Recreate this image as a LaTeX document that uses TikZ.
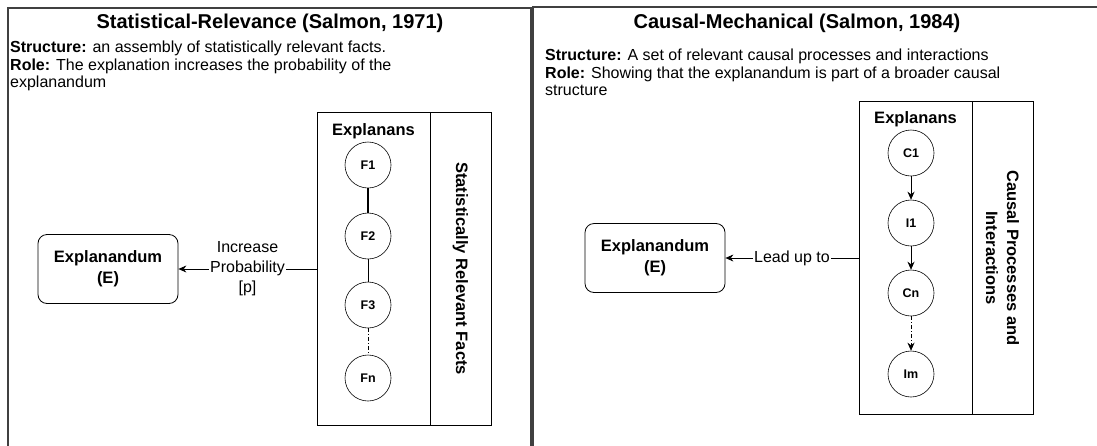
\documentclass[tikz,border=0pt]{standalone}
\usepackage{fontspec}
\setmainfont{Liberation Sans}
\usetikzlibrary{arrows.meta}

\begin{document}
\begin{tikzpicture}[x=1pt,y=-1pt,
  panel/.style={draw=black!75, line width=1.6pt},
  paneltitle/.style={font=\bfseries\fontsize{20}{24}\selectfont},
  bodytext/.style={anchor=north west, align=left, inner sep=0pt,
    font=\fontsize{16}{17.5}\selectfont},
  endbox/.style={draw, line width=0.8pt, rounded corners=9pt, minimum width=140pt,
    minimum height=69pt, align=center, font=\bfseries\fontsize{16.5}{21}\selectfont},
  column/.style={draw, line width=0.8pt, minimum width=113pt, minimum height=313pt},
  sidecol/.style={draw, line width=0.8pt, minimum width=61pt, minimum height=313pt},
  coltitle/.style={font=\bfseries\fontsize{16.5}{20}\selectfont},
  sidetext/.style={rotate=-90, align=center, font=\bfseries\fontsize{16.5}{21}\selectfont},
  fact/.style={circle, draw, line width=0.6pt, minimum size=46pt, inner sep=0pt,
    font=\bfseries\fontsize{12.5}{14}\selectfont},
  link/.style={draw, line width=0.7pt},
  arr/.style={link, -{Stealth[length=8pt,width=7pt]}},
  edgelabel/.style={fill=white, align=center, inner sep=1pt,
    font=\fontsize{16}{20}\selectfont}
]
\useasboundingbox (0,0) rectangle (1097,445);

% ---------- panel frames ----------
\draw[panel] (8,446) -- (8,8) -- (531,8) -- (531,446);
\draw[panel] (533,446) -- (533,7) -- (1098,7);

% ---------- left panel: statistical relevance ----------
\node[paneltitle] (titleL) at (270,23) {Statistical-Relevance (Salmon, 1971)};
\node[bodytext] (textL) at (10,41) {\textbf{Structure:} an assembly of statistically relevant facts.\\
  \textbf{Role:} The explanation increases the probability of the\\
  explanandum};

\node[column] (colL) at (373.5,268.5) {};
\node[sidecol] (sideL) at (460.5,268.5) {};
\node[sidetext] (sideLtext) at (sideL.center) {Statistically Relevant Facts};
\node[coltitle] (colLtitle) at (373.5,131) {Explanans};

\node[fact] (F1) at (368,165) {F1};
\node[fact] (F2) at (368,236) {F2};
\node[fact] (F3) at (368,305) {F3};
\node[fact] (Fn) at (368,378) {Fn};
\draw[link, line width=1.2pt] (F1) -- (F2);
\draw[link] (F2) -- (F3);
\draw[link, dash pattern=on 4pt off 2pt on 1pt off 2pt] (F3) -- (Fn);

\node[endbox] (EL) at (108,269) {Explanandum\\(E)};
\coordinate (jL) at (colL.west |- EL.east);
\draw[arr] (jL) -- node[edgelabel] (lblL) {Increase\\Probability\\{[p]}} (EL.east);

% ---------- right panel: causal mechanical ----------
\node[paneltitle] (titleR) at (797,23) {Causal-Mechanical (Salmon, 1984)};
\node[bodytext] (textR) at (545,49) {\textbf{Structure:} A set of relevant causal processes and interactions\\
  \textbf{Role:} Showing that the explanandum is part of a broader causal\\
  structure};

\node[column] (colR) at (915.5,258) {};
\node[sidecol] (sideR) at (1002.5,258) {};
\node[sidetext] (sideRtext) at (sideR.center) {Causal Processes and\\Interactions};
\node[coltitle] (colRtitle) at (915.5,119) {Explanans};

\node[fact] (C1) at (911,153) {C1};
\node[fact] (I1) at (911,223) {I1};
\node[fact] (Cn) at (911,293) {Cn};
\node[fact] (Im) at (911,374) {Im};
\draw[arr] (C1) -- (I1);
\draw[arr] (I1) -- (Cn);
\draw[arr, dash pattern=on 4pt off 2pt on 1pt off 2pt] (Cn) -- (Im);

\node[endbox] (ER) at (655,258) {Explanandum\\(E)};
\coordinate (jR) at (colR.west |- ER.east);
\draw[arr] (jR) -- node[edgelabel] (lblR) {Lead up to} (ER.east);
\end{tikzpicture}
\end{document}
